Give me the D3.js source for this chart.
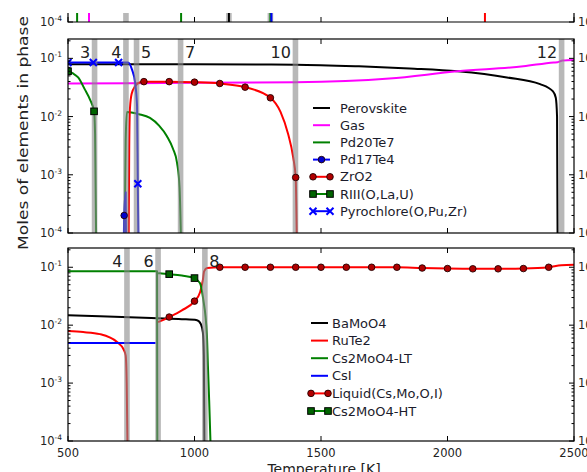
<!DOCTYPE html>
<html>
<head>
<meta charset="utf-8">
<script src="https://cdn.jsdelivr.net/npm/d3@7"></script>
<style>
body { margin: 0; background: #fff; }
text { font-family: "DejaVu Sans", sans-serif; }
</style>
</head>
<body>
<script>
const width = 587;
const height = 472;

// ---- axes ----
const xDomain = [500, 2500];
const xTicks = [500, 1000, 1500, 2000, 2500];
const yDomain = [1e-4, 0.215];
const yTicks = [1e-4, 1e-3, 1e-2, 1e-1];
const yTickExp = ["-4", "-3", "-2", "-1"];

// ---- top strip (only the bottom of that panel is visible) ----
const stripBands = [729, 1136, 1300];
const stripGreen = [536, 947, 1300];
const stripMagenta = [583];
const stripBlack = [1136];
const stripBlue = [1304];
const stripRed = [2148];

// ---- middle panel ----
const midBandT = [605, 729, 771, 945, 1399, 2451];
const midBandLabel = ["3", "4", "5", "7", "10", "12"];
const midBandSide = ["end", "end", "start", "start", "end", "end"];

const perovskite = [[500, 0.079], [1000, 0.079], [1400, 0.078], [1650, 0.073], [1850, 0.067], [2040, 0.060],
    [2235, 0.047], [2366, 0.036], [2417, 0.027], [2428, 0.021], [2433, 0.010], [2435, 1e-4]];
const gas = [[500, 0.037], [1000, 0.038], [1400, 0.0388], [1770, 0.045], [2040, 0.060], [2300, 0.073],
    [2420, 0.085], [2435, 0.086], [2455, 0.092], [2500, 0.094]];
const pd20te7 = [[724, 1e-4], [728, 0.004], [733, 0.012], [780, 0.011], [824, 0.0095], [860, 0.007],
    [891, 0.0046], [915, 0.0028], [931, 0.0016], [941, 0.0006], [946, 1e-4]];
const pd17te4 = [[721, 1e-4], [722, 2e-4], [728, 5e-4], [729, 1e-4]];
const pd17te4Marks = [[722, 2e-4]];
const zro2 = [[740, 1e-4], [742, 0.003], [745, 0.014], [752, 0.025], [765, 0.033], [785, 0.039], [800, 0.0398],
    [900, 0.0398], [1000, 0.039], [1100, 0.037], [1200, 0.032], [1300, 0.021], [1340, 0.012], [1370, 0.005],
    [1390, 0.002], [1400, 0.0009], [1404, 1e-4]];
const zro2Marks = [[800, 0.0398], [900, 0.0398], [1000, 0.039], [1100, 0.037], [1200, 0.032], [1300, 0.021], [1400, 0.0009]];
const rIII = [[500, 0.060], [520, 0.055], [540, 0.047], [567, 0.029], [587, 0.0196], [603, 0.0123], [607, 0.005], [611, 1e-4]];
const rIIIMarks = [[500, 0.060], [603, 0.0123]];
const pyrochlore = [[500, 0.085], [600, 0.085], [700, 0.085], [737, 0.085], [753, 0.064], [765, 0.039],
    [773, 0.015], [776, 0.0007], [778, 1e-4]];
const pyrochloreMarks = [[500, 0.085], [600, 0.085], [700, 0.085], [776, 0.0007]];

const midNames = ["Perovskite", "Gas", "Pd20Te7", "Pd17Te4", "ZrO2", "RIII(O,La,U)", "Pyrochlore(O,Pu,Zr)"];

// ---- bottom panel ----
const botBandT = [733, 856, 1041];
const botBandLabel = ["4", "6", "8"];
const botBandSide = ["end", "end", "start"];

const bamoo4 = [[500, 0.0148], [626, 0.0143], [852, 0.0132], [950, 0.0127], [1010, 0.0122], [1025, 0.0105],
    [1033, 0.0075], [1037, 0.003], [1039, 1e-4]];
const rute2 = [[500, 0.0079], [560, 0.0076], [626, 0.0070], [694, 0.0051], [720, 0.0038], [728, 0.0030],
    [732, 0.001], [735, 1e-4]];
const cs2moo4LT = [[500, 0.085], [852, 0.085], [853, 1e-4]];
const csI = [[500, 0.0049], [846, 0.0049]];
const liquid = [[856, 0.0113], [900, 0.0138], [950, 0.018], [1000, 0.026], [1022, 0.037], [1033, 0.060],
    [1038, 0.085], [1050, 0.097], [1100, 0.100], [1200, 0.100], [1300, 0.100], [1400, 0.100], [1500, 0.100],
    [1600, 0.100], [1700, 0.100], [1800, 0.100], [1900, 0.097], [2000, 0.095], [2100, 0.094], [2200, 0.094],
    [2300, 0.095], [2400, 0.100], [2450, 0.108], [2500, 0.110]];
const liquidMarks = [[900, 0.0138], [1000, 0.026], [1100, 0.100], [1200, 0.100], [1300, 0.100], [1400, 0.100],
    [1500, 0.100], [1600, 0.100], [1700, 0.100], [1800, 0.100], [1900, 0.097], [2000, 0.095], [2100, 0.094],
    [2200, 0.094], [2300, 0.095], [2400, 0.100]];
const cs2moo4HT = [[856, 0.079], [870, 0.078], [900, 0.076], [950, 0.072], [1000, 0.065], [1022, 0.053],
    [1034, 0.029], [1049, 0.0068], [1053, 0.002], [1058, 5e-4], [1063, 1e-4]];
const cs2moo4HTMarks = [[900, 0.076], [1000, 0.065]];

const botNames = ["BaMoO4", "RuTe2", "Cs2MoO4-LT", "CsI", "Liquid(Cs,Mo,O,I)", "Cs2MoO4-HT"];

// ---- layout ----
const plotLeft = 68, plotRight = 574;
const x = d3.scaleLinear().domain(xDomain).range([plotLeft, plotRight]);

const svg = d3.select("body").append("svg")
    .attr("width", width)
    .attr("height", height);

const line = y => d3.line()
    .curve(d3.curveMonotoneX)
    .x(d => x(d[0]))
    .y(d => y(d[1]));

function makePanel(id, top, bottom, clipTop) {
    let y = d3.scaleLog().domain(yDomain).range([bottom, top]);
    svg.append("clipPath").attr("id", id)
        .append("rect")
        .attr("x", plotLeft).attr("y", clipTop)
        .attr("width", plotRight - plotLeft).attr("height", bottom - clipTop);
    let g = svg.append("g");
    let plot = g.append("g").attr("clip-path", `url(#${id})`);
    return {y, g, plot, top, bottom, clipTop};
}

function drawAxes(p, showTop, showLabelsX) {
    let minor = p.y.ticks().filter(v => yTicks.indexOf(v) < 0 && v < yDomain[1] && p.y(v) >= p.clipTop);
    let major = yTicks.filter(v => p.y(v) >= p.clipTop);
    // y ticks left and right (inward)
    [["left", plotLeft, 1], ["right", plotRight, -1]].forEach(([side, xx, dir]) => {
        major.forEach(v => {
            p.g.append("line").attr("x1", xx).attr("x2", xx + dir * 5)
                .attr("y1", p.y(v)).attr("y2", p.y(v)).attr("stroke", "#000");
        });
        minor.forEach(v => {
            p.g.append("line").attr("x1", xx).attr("x2", xx + dir * 2.5)
                .attr("y1", p.y(v)).attr("y2", p.y(v)).attr("stroke", "#000");
        });
        major.forEach(v => {
            let i = yTicks.indexOf(v);
            let t = p.g.append("text")
                .attr("x", side === "left" ? xx - 6 : xx + 4)
                .attr("y", p.y(v) + 4)
                .attr("text-anchor", side === "left" ? "end" : "start")
                .style("font-size", "11.5px")
                .attr("fill", "#222");
            t.append("tspan").text("10");
            t.append("tspan").attr("dy", -5).style("font-size", "7.5px").text(yTickExp[i]);
        });
    });
    // x ticks bottom/top (inward)
    xTicks.forEach(v => {
        p.g.append("line").attr("x1", x(v)).attr("x2", x(v))
            .attr("y1", p.bottom).attr("y2", p.bottom - 5).attr("stroke", "#000");
        if (showTop) {
            p.g.append("line").attr("x1", x(v)).attr("x2", x(v))
                .attr("y1", p.top).attr("y2", p.top + 5).attr("stroke", "#000");
        }
        if (showLabelsX) {
            p.g.append("text").attr("x", x(v)).attr("y", p.bottom + 16)
                .attr("text-anchor", "middle")
                .style("font-size", "11.5px")
                .attr("fill", "#222")
                .text(v);
        }
    });
}

function drawFrame(p, full) {
    if (full) {
        p.g.append("rect").attr("x", plotLeft).attr("y", p.top)
            .attr("width", plotRight - plotLeft).attr("height", p.bottom - p.top)
            .attr("fill", "none").attr("stroke", "#000").attr("stroke-width", 1.2);
    } else {
        p.g.append("path")
            .attr("d", `M${plotLeft},${p.clipTop}V${p.bottom}H${plotRight}V${p.clipTop}`)
            .attr("fill", "none").attr("stroke", "#000").attr("stroke-width", 1.2);
    }
}

function drawBands(p, bands, labels, sides) {
    bands.forEach(t => {
        p.plot.append("rect").attr("x", x(t) - 2.8).attr("y", p.top)
            .attr("width", 5.6).attr("height", p.bottom - p.top)
            .attr("fill", "#888").attr("opacity", 0.6);
    });
    if (!labels) return;
    labels.forEach((l, i) => {
        let anchor = sides[i];
        p.g.append("text")
            .attr("x", x(bands[i]) + (anchor === "end" ? -4.5 : 4.5))
            .attr("y", p.top + 19)
            .attr("text-anchor", anchor)
            .style("font-size", "16px")
            .attr("fill", "#222")
            .text(l);
    });
}

function drawSeries(p, data, color) {
    p.plot.append("path")
        .datum(data)
        .attr("fill", "none")
        .attr("stroke", color)
        .attr("stroke-width", 2)
        .attr("stroke-linejoin", "round")
        .attr("d", line(p.y));
}

function marker(g, cx, cy, type, color) {
    if (type === "circle") {
        g.append("circle").attr("cx", cx).attr("cy", cy).attr("r", 3.3)
            .attr("fill", color).attr("stroke", "#200").attr("stroke-width", 0.9);
    } else if (type === "square") {
        g.append("rect").attr("x", cx - 3.3).attr("y", cy - 3.3).attr("width", 6.6).attr("height", 6.6)
            .attr("fill", color).attr("stroke", "#000").attr("stroke-width", 1);
    } else if (type === "x") {
        g.append("path").attr("d", `M${cx - 3.5},${cy - 3.5}L${cx + 3.5},${cy + 3.5}M${cx - 3.5},${cy + 3.5}L${cx + 3.5},${cy - 3.5}`)
            .attr("stroke", color).attr("stroke-width", 2);
    }
}

function drawMarks(p, marks, type, color) {
    marks.forEach(d => marker(p.plot, x(d[0]), p.y(d[1]), type, color));
}

function drawLegend(p, items, lx0, lx1, tx, y0, dy) {
    items.forEach((it, i) => {
        let yy = y0 + i * dy;
        p.g.append("line").attr("x1", lx0).attr("x2", lx1).attr("y1", yy).attr("y2", yy)
            .attr("stroke", it.color).attr("stroke-width", 2);
        if (it.mark) {
            if (it.single) {
                marker(p.g, (lx0 + lx1) / 2, yy, it.mark, it.markColor);
            } else {
                marker(p.g, lx0, yy, it.mark, it.markColor);
                marker(p.g, lx1, yy, it.mark, it.markColor);
            }
        }
        p.g.append("text").attr("x", tx).attr("y", yy + 4.5)
            .style("font-size", "13px")
            .attr("fill", "#1c1c2c")
            .text(it.name);
    });
}

// ---- top strip ----
const strip = makePanel("clipStrip", -172, 22, 13);
drawBands(strip, stripBands);
[[stripGreen, "#008000"], [stripMagenta, "#ff00ff"], [stripBlack, "#000"], [stripBlue, "#0000ff"], [stripRed, "#ff0000"]]
    .forEach(([arr, c]) => arr.forEach(t => drawSeries(strip, [[t, 1e-4], [t, 0.2]], c)));
drawAxes(strip, false, false);
drawFrame(strip, false);

// ---- middle panel ----
const mid = makePanel("clipMid", 39, 233, 39);
drawSeries(mid, perovskite, "#000");
drawSeries(mid, gas, "#ff00ff");
drawSeries(mid, rIII, "#008000");
drawSeries(mid, pd20te7, "#008000");
drawSeries(mid, zro2, "#ff0000");
drawSeries(mid, pyrochlore, "#0000ff");
drawSeries(mid, pd17te4, "#0000ff");
drawBands(mid, midBandT, midBandLabel, midBandSide);
drawMarks(mid, zro2Marks, "circle", "#b00000");
drawMarks(mid, rIIIMarks, "square", "#006400");
drawMarks(mid, pyrochloreMarks, "x", "#0000ff");
drawMarks(mid, pd17te4Marks, "circle", "#0000cc");
drawAxes(mid, true, false);
drawFrame(mid, true);
drawLegend(mid, [
    {name: midNames[0], color: "#000"},
    {name: midNames[1], color: "#ff00ff"},
    {name: midNames[2], color: "#008000"},
    {name: midNames[3], color: "#0000ff", mark: "circle", markColor: "#0000cc", single: true},
    {name: midNames[4], color: "#ff0000", mark: "circle", markColor: "#b00000"},
    {name: midNames[5], color: "#008000", mark: "square", markColor: "#006400"},
    {name: midNames[6], color: "#0000ff", mark: "x", markColor: "#0000ff"}
], 313, 330, 340, 108, 17.2);

// ---- bottom panel ----
const bot = makePanel("clipBot", 248, 441, 248);
drawSeries(bot, bamoo4, "#000");
drawSeries(bot, rute2, "#ff0000");
drawSeries(bot, cs2moo4LT, "#008000");
drawSeries(bot, csI, "#0000ff");
drawSeries(bot, liquid, "#ff0000");
drawSeries(bot, cs2moo4HT, "#008000");
drawBands(bot, botBandT, botBandLabel, botBandSide);
drawMarks(bot, liquidMarks, "circle", "#b00000");
drawMarks(bot, cs2moo4HTMarks, "square", "#006400");
drawAxes(bot, true, true);
drawFrame(bot, true);
drawLegend(bot, [
    {name: botNames[0], color: "#000"},
    {name: botNames[1], color: "#ff0000"},
    {name: botNames[2], color: "#008000"},
    {name: botNames[3], color: "#0000ff"},
    {name: botNames[4], color: "#ff0000", mark: "circle", markColor: "#b00000"},
    {name: botNames[5], color: "#008000", mark: "square", markColor: "#006400"}
], 311, 328, 332, 323, 17.6);

// ---- axis titles ----
svg.append("text")
    .attr("transform", "translate(28,133) rotate(-90)")
    .attr("text-anchor", "middle")
    .attr("textLength", 234)
    .attr("lengthAdjust", "spacingAndGlyphs")
    .style("font-size", "14px")
    .attr("fill", "#222")
    .text("Moles of elements in phase");

svg.append("text")
    .attr("x", 324).attr("y", 474)
    .attr("text-anchor", "middle")
    .style("font-size", "14px")
    .attr("fill", "#222")
    .text("Temperature [K]");
</script>
</body>
</html>
